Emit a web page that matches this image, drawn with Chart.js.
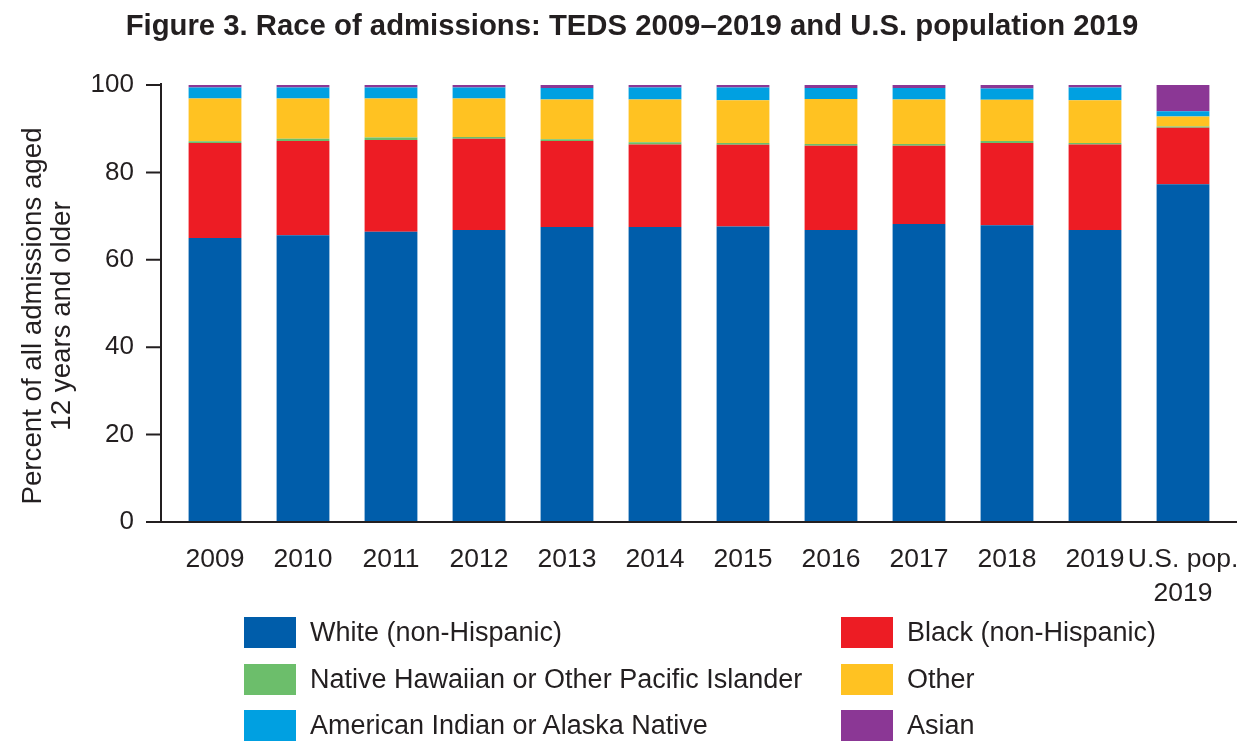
<!DOCTYPE html>
<html>
<head>
<meta charset="utf-8">
<script src="https://cdn.jsdelivr.net/npm/chart.js"></script>
<style>
  html, body { margin: 0; padding: 0; background: #fff; }
  #wrap { position: relative; width: 1254px; height: 741px; font-family: "Liberation Sans", Arial, sans-serif; color: #231f20; }
  #title { position: absolute; top: 8px; left: 5px; width: 1254px; text-align: center; font-weight: bold; font-size: 29.3px; font-family: "Liberation Sans Narrow", "Liberation Sans", Arial, sans-serif; white-space: nowrap; }
  canvas { position: absolute; left: 0; top: 0; }
  .item { position: absolute; height: 32px; display: flex; align-items: center; font-size: 27px; white-space: nowrap; }
  .sw { width: 52px; height: 31px; margin-right: 14px; flex: none; }
</style>
</head>
<body>
<div id="wrap">
  <canvas id="myBarChart" width="1254" height="741"></canvas>
  <div id="title">Figure 3. Race of admissions: TEDS 2009–2019 and U.S. population 2019</div>
  <div id="legend"></div>
</div>
<script>
// data (percent of admissions)
const categories = ['2009', '2010', '2011', '2012', '2013', '2014', '2015', '2016', '2017', '2018', '2019', ['U.S. pop.', '2019']];
const white = [65.0, 65.6, 66.4, 66.8, 67.5, 67.5, 67.6, 66.8, 68.2, 67.9, 66.8, 77.3];
const black = [21.7, 21.6, 21.0, 20.9, 19.7, 18.9, 18.7, 19.3, 17.9, 18.8, 19.6, 12.9];
const pacific = [0.4, 0.5, 0.6, 0.4, 0.4, 0.5, 0.4, 0.4, 0.4, 0.5, 0.3, 0.3];
const other = [9.8, 9.2, 8.9, 8.8, 9.1, 9.8, 9.8, 10.3, 10.2, 9.4, 9.8, 2.3];
const amIndian = [2.5, 2.5, 2.5, 2.5, 2.6, 2.7, 2.9, 2.5, 2.6, 2.6, 2.9, 1.2];
const asian = [0.6, 0.6, 0.6, 0.6, 0.7, 0.6, 0.6, 0.7, 0.7, 0.8, 0.6, 6.0];
const yTicks = [0, 20, 40, 60, 80, 100];

const seriesNames = ['White (non-Hispanic)', 'Black (non-Hispanic)', 'Native Hawaiian or Other Pacific Islander', 'Other', 'American Indian or Alaska Native', 'Asian'];
const seriesData = [white, black, pacific, other, amIndian, asian];
const seriesColors = ['#005daa', '#ed1c24', '#6cbe6b', '#ffc222', '#00a0e1', '#8b3795'];

const ink = '#231f20';
const font = '"Liberation Sans", Arial, sans-serif';

// legend, two columns
const legend = document.getElementById('legend');
const colX = [244, 841];
const rowY = [632, 679, 725];
seriesNames.forEach(function(name, i) {
    var div = document.createElement('div');
    div.className = 'item';
    div.style.left = colX[i % 2] + 'px';
    div.style.top = (rowY[Math.floor(i / 2)] - 16) + 'px';
    div.innerHTML = '<span class="sw" style="background:' + seriesColors[i] + '"></span><span>' + name + '</span>';
    legend.appendChild(div);
});

// axes drawn a bit outside the chart area, like the original
const axesPlugin = {
    id: 'axes',
    afterDraw(chart) {
        const ctx = chart.ctx;
        const area = chart.chartArea;
        const y = chart.scales.y;
        const ax = area.left - 10;
        ctx.save();
        ctx.strokeStyle = ink;
        ctx.lineWidth = 2;
        ctx.beginPath();
        ctx.moveTo(ax, area.top - 2);
        ctx.lineTo(ax, area.bottom + 1);
        ctx.moveTo(ax - 1, area.bottom);
        ctx.lineTo(area.right + 10, area.bottom);
        yTicks.forEach(function(t) {
            const py = y.getPixelForValue(t);
            ctx.moveTo(ax - 15, py);
            ctx.lineTo(ax, py);
        });
        ctx.stroke();

        // y axis title
        ctx.fillStyle = ink;
        ctx.font = '27.7px ' + font;
        ctx.textAlign = 'center';
        ctx.textBaseline = 'middle';
        ctx.translate(0, 316);
        ctx.rotate(-Math.PI / 2);
        ctx.fillText('Percent of all admissions aged', 0, 33);
        ctx.fillText('12 years and older', 0, 62);
        ctx.restore();
    }
};

var ctx = document.getElementById('myBarChart');
var myBarChart = new Chart(ctx, {
    type: 'bar',
    data: {
        labels: categories,
        datasets: seriesNames.map(function(name, i) {
            return {
                label: name,
                data: seriesData[i],
                backgroundColor: seriesColors[i],
                borderWidth: 0,
                barPercentage: 0.6,
                categoryPercentage: 1.0
            };
        })
    },
    options: {
        responsive: false,
        animation: false,
        devicePixelRatio: 1,
        layout: { padding: { top: 85, right: 27, left: 0, bottom: 0 } },
        plugins: {
            legend: { display: false },
            title: { display: false },
            tooltip: { enabled: false }
        },
        scales: {
            x: {
                stacked: true,
                offset: true,
                grid: { display: false },
                border: { display: false },
                ticks: {
                    color: ink,
                    font: { size: 26.5, family: font, lineHeight: 1.3 },
                    padding: 12,
                    maxRotation: 0,
                    autoSkip: false
                },
                afterFit: function(scale) { scale.height = 219; }
            },
            y: {
                stacked: true,
                min: 0,
                max: 100,
                grid: { display: false },
                border: { display: false },
                ticks: {
                    stepSize: 20,
                    color: ink,
                    font: { size: 26, family: font },
                    padding: 29
                },
                afterFit: function(scale) { scale.width = 171; }
            }
        }
    },
    plugins: [axesPlugin]
});
</script>
</body>
</html>
